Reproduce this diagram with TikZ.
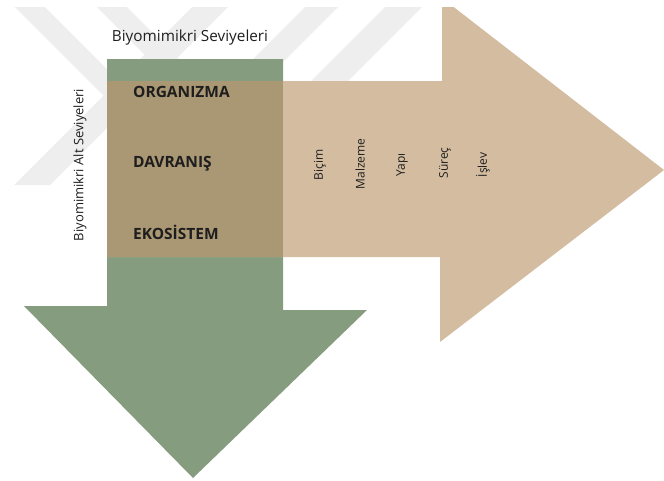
\documentclass[tikz,border=0pt]{standalone}
\usepackage{fontspec}
\setmainfont{Open Sans}
\definecolor{leafgreen}{HTML}{869C7E}
\definecolor{sand}{HTML}{D3BC9F}
\definecolor{olive}{HTML}{AA9773}
\definecolor{wmark}{HTML}{EEEEEE}
\definecolor{ink}{HTML}{1E1E1E}
\begin{document}
\begin{tikzpicture}[x=1pt,y=-1pt,
  title/.style={font=\fontsize{15.3}{17}\selectfont, text=ink, inner sep=0pt},
  level/.style={font=\bfseries\fontsize{15.5}{17}\selectfont, text=ink, anchor=west, inner sep=0pt},
  sidelabel/.style={font=\fontsize{13}{15}\selectfont, text=ink, rotate=90, inner sep=0pt},
  aspect/.style={font=\fontsize{12}{13}\selectfont, text=ink, rotate=90, inner sep=0pt},
  band/.style={fill=wmark}]
\useasboundingbox (0,0) rectangle (664,480);
\begin{scope}
  \clip (0,7) rectangle (664,480);
  % faint diagonal bands in the background
  \fill[band] (15,7) -- (45,7) -- (170,132) -- (140,132) -- cycle;
  \fill[band] (97,7) -- (127,7) -- (200,80) -- (170,80) -- cycle;
  \fill[band] (192,7) -- (228,7) -- (50,185) -- (14,185) -- cycle;
  \fill[band] (305,7) -- (338,7) -- (264,81) -- (231,81) -- cycle;
  \fill[band] (385,7) -- (422,7) -- (348,81) -- (311,81) -- cycle;
  % downward green arrow
  \fill[leafgreen] (107,59) -- (283,59) -- (283,310) -- (367,310)
    -- (193,478) -- (24,306) -- (107,306) -- cycle;
  % rightward sand arrow
  \fill[sand] (107,81) -- (442,81) -- (442,-2) -- (664,170)
    -- (440,342) -- (440,257) -- (107,257) -- cycle;
  % where the two arrows cross
  \fill[olive] (107,81) rectangle (283,257);
\end{scope}
\node[title] (levels) at (190,38) {Biyomimikri Seviyeleri};
\node[sidelabel] (sublevels) at (80,165) {Biyomimikri Alt Seviyeleri};
\node[level] (org) at (133,92) {ORGANIZMA};
\node[level] (beh) at (133,164) {DAVRANIŞ};
\node[level] (eco) at (133,232) {EKOSİSTEM};
\node[aspect] (form) at (320,165) {Biçim};
\node[aspect] (mat) at (360,164) {Malzeme};
\node[aspect] (struct) at (402,165) {Yapı};
\node[aspect] (proc) at (445,163) {Süreç};
\node[aspect] (func) at (483,165) {İşlev};
\end{tikzpicture}
\end{document}
